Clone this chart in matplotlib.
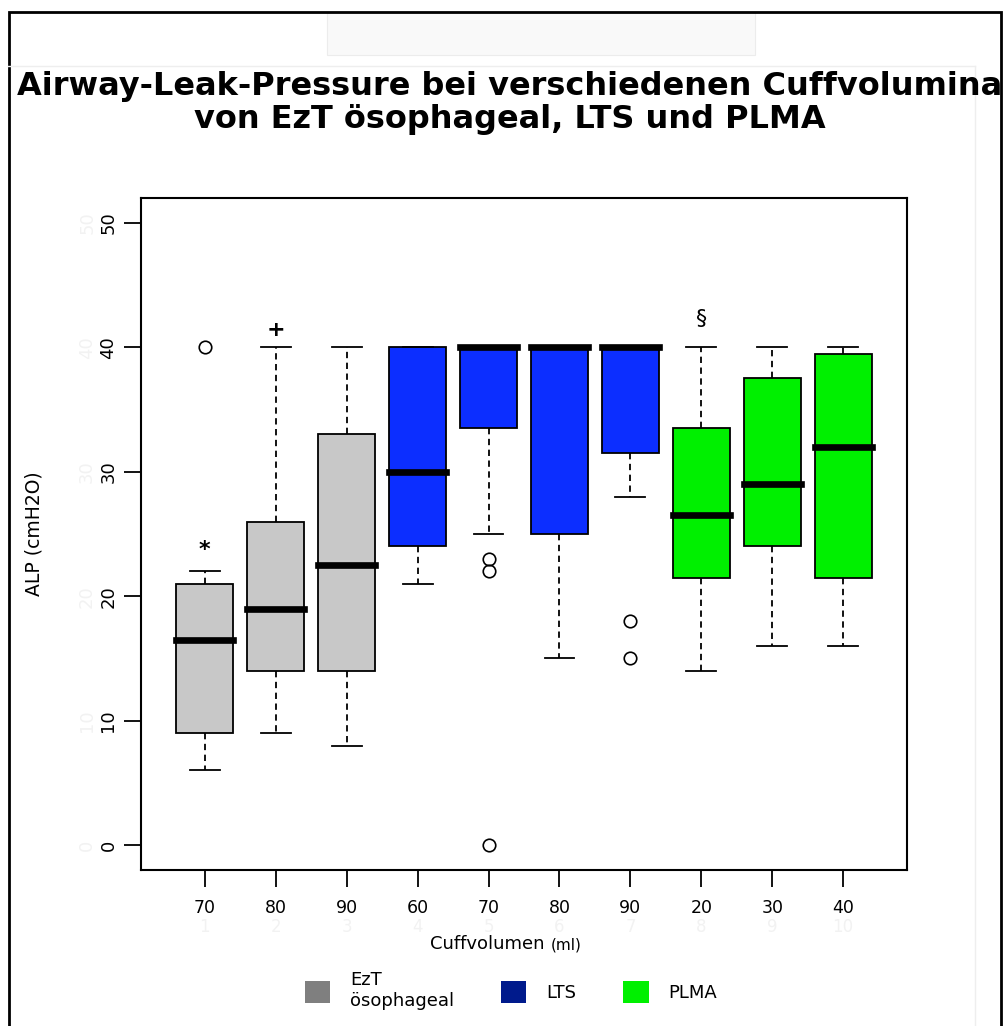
import numpy as np
import matplotlib.pyplot as plt
from matplotlib.patches import Patch, Rectangle
from matplotlib.lines import Line2D

# data
group_names = ['EzT\nösophageal', 'LTS', 'PLMA']
cuff_labels = ['70', '80', '90', '60', '70', '80', '90', '20', '30', '40']
box_group = [0, 0, 0, 1, 1, 1, 1, 2, 2, 2]
whis_lo = [6, 9, 8, 21, 25, 15, 28, 14, 16, 16]
q1 = [9, 14, 14, 24, 33.5, 25, 31.5, 21.5, 24, 21.5]
median = [16.5, 19, 22.5, 30, 40, 40, 40, 26.5, 29, 32]
q3 = [21, 26, 33, 40, 40, 40, 40, 33.5, 37.5, 39.5]
whis_hi = [22, 40, 40, 40, 40, 40, 40, 40, 40, 40]
outliers = [[40], [], [], [], [23, 22, 0], [], [18, 15], [], [], []]

# significance marks: box index, symbol, height
mark_box = [0, 1, 7]
mark_sym = ['*', '+', '§']
mark_y = [23.7, 41.4, 42.3]

box_colors = ['#c8c8c8', '#0c2eff', '#00f000']
legend_colors = ['#7f7f7f', '#001a8c', '#00f000']

fig = plt.figure(figsize=(10.04, 10.26), dpi=100)
ax = fig.add_axes([141 / 1004, 1 - 870 / 1026, 766 / 1004, 672 / 1026])

pos = np.arange(1, len(cuff_labels) + 1)
stats = []
for i in range(len(cuff_labels)):
    stats.append(dict(whislo=whis_lo[i], q1=q1[i], med=median[i], q3=q3[i],
                      whishi=whis_hi[i], fliers=outliers[i]))

bp = ax.bxp(stats, positions=pos, widths=0.8, capwidths=0.42, patch_artist=True,
            boxprops=dict(edgecolor='black', linewidth=1.3),
            medianprops=dict(color='black', linewidth=4.8, solid_capstyle='projecting'),
            whiskerprops=dict(color='black', linewidth=1.3, linestyle=(0, (3.5, 2.5))),
            capprops=dict(color='black', linewidth=1.3),
            flierprops=dict(marker='o', markerfacecolor='none', markeredgecolor='black',
                            markersize=9, markeredgewidth=1.2))
for patch, g in zip(bp['boxes'], box_group):
    patch.set_facecolor(box_colors[g])

for b, s, y in zip(mark_box, mark_sym, mark_y):
    weight = 'normal' if s == '§' else 'bold'
    ax.text(pos[b], y, s, ha='center', va='center', fontsize=16, fontweight=weight)

ax.set_xlim(0.1, 10.9)
ax.set_ylim(-2, 52)
ax.set_xticks(pos)
ax.set_xticklabels(cuff_labels, fontsize=12.5)
ax.set_yticks(np.arange(0, 51, 10))
ax.set_yticklabels([str(v) for v in range(0, 51, 10)], rotation=90, va='center', fontsize=13)
ax.tick_params(axis='both', length=12, width=1.3)
ax.tick_params(axis='x', pad=9)
ax.tick_params(axis='y', pad=5)
for sp in ax.spines.values():
    sp.set_linewidth(1.5)

# faint ghost labels left over in the original
for v in range(0, 51, 10):
    ax.text(-0.66, v, str(v), rotation=90, ha='center', va='center', fontsize=13,
            color='#f2f2f2', clip_on=False)
for p in pos:
    ax.text(p, -6.6, str(p), ha='center', va='center', fontsize=12, color='#f2f2f2',
            clip_on=False)

ax.set_ylabel('ALP (cmH2O)', fontsize=13.5, labelpad=40)

xl = fig.text(430 / 1004, 1 - 944 / 1026, 'Cuffvolumen ', ha='left', va='center', fontsize=13)
ax.annotate('(ml)', xy=(1, 0), xycoords=xl, va='bottom', ha='left', fontsize=11)

fig.text(0.508, 1 - 103 / 1026,
         'Airway-Leak-Pressure bei verschiedenen Cuffvolumina\nvon EzT ösophageal, LTS und PLMA',
         ha='center', va='center', fontsize=23, fontweight='bold', linespacing=1.08)

handles = [Patch(facecolor=c, edgecolor='none') for c in legend_colors]
fig.legend(handles, group_names, loc='upper center', bbox_to_anchor=(0.509, 1 - 955 / 1026),
           ncol=3, frameon=False, fontsize=13, handlelength=1.4, handleheight=1.5,
           handletextpad=1.1, columnspacing=2.6, labelspacing=0.2)

# frames around the figure
fig.patches.append(Rectangle((327 / 1004, 1 - 55 / 1026), 428 / 1004, 43 / 1026,
                             transform=fig.transFigure, facecolor='#f9f9f9',
                             edgecolor='#ececec', linewidth=0.8, zorder=0))
fig.add_artist(Line2D([8 / 1004, 975 / 1004], [1 - 66 / 1026] * 2, color='#eeeeee', lw=1))
fig.add_artist(Line2D([975 / 1004] * 2, [1 - 66 / 1026, 0], color='#eeeeee', lw=1))
fig.patches.append(Rectangle((9 / 1004, -0.02), 992 / 1004, 1.02 - 12 / 1026,
                             transform=fig.transFigure, facecolor='none',
                             edgecolor='black', linewidth=2))

fig.savefig('out.png', dpi=100)
